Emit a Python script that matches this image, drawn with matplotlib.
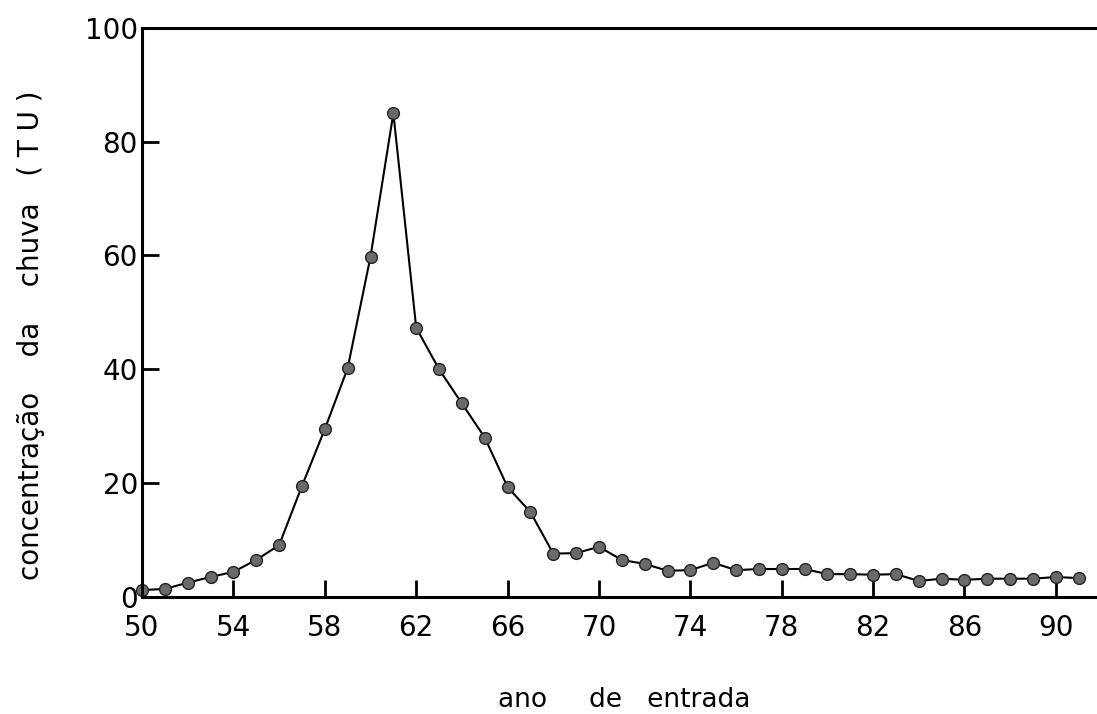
import matplotlib
matplotlib.use("Agg")
import matplotlib.pyplot as plt

# ano de entrada e concentração (TU)
anos = list(range(50, 92))
concentracao = [1.2, 1.4, 2.5, 3.5, 4.4, 6.5, 9.1, 19.5, 29.5, 40.2,
                59.8, 85.0, 47.3, 40.0, 34.0, 28.0, 19.3, 14.9, 7.6, 7.7,
                8.8, 6.5, 5.8, 4.6, 4.7, 6.0, 4.7, 4.9, 4.9, 4.9,
                4.0, 4.0, 3.9, 4.0, 2.8, 3.2, 3.0, 3.2, 3.2, 3.2,
                3.5, 3.3]

x_ticks = list(range(50, 91, 4))
y_ticks = [0, 20, 40, 60, 80, 100]

fig = plt.figure(figsize=(10.97, 7.14), dpi=100)
ax = fig.add_axes([0.1295, 0.164, 0.8705, 0.797])

ax.plot(anos, concentracao, color='black', linewidth=1.5,
        marker='o', markersize=8.5, markerfacecolor='#6a6a6a',
        markeredgecolor='#222222', markeredgewidth=1.0, clip_on=False)

ax.set_xlim(50, 91.8)
ax.set_ylim(0, 100)
ax.set_xticks(x_ticks)
ax.set_yticks(y_ticks)
ax.tick_params(direction='in', length=12, width=2, labelsize=20, color='black')
ax.tick_params(axis='x', pad=12)
ax.tick_params(axis='y', pad=3)

for side in ['left', 'bottom', 'top']:
    ax.spines[side].set_linewidth(2.2)
ax.spines['right'].set_visible(False)

fig.text(31 / 1097, 1 - 335 / 714, "concentração    da    chuva   ( T U )",
         rotation=90, ha='center', va='center', fontsize=20)
fig.text(624 / 1097, 1 - 700 / 714, "ano     de   entrada",
         ha='center', va='center', fontsize=19)

plt.savefig("out.png", dpi=100)
